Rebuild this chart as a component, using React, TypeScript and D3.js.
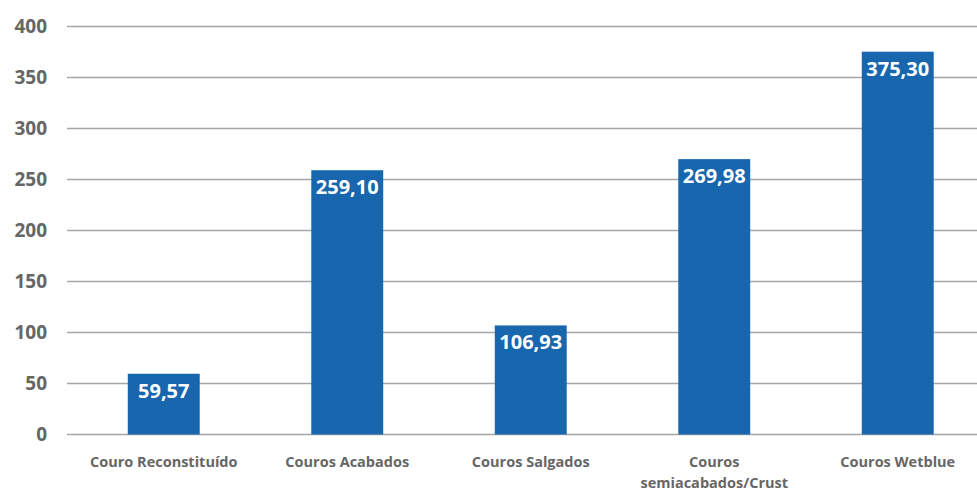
import React from "react";
import * as d3 from "d3";

const categories: string[][] = [
  ["Couro Reconstituído"],
  ["Couros Acabados"],
  ["Couros Salgados"],
  ["Couros", "semiacabados/Crust"],
  ["Couros Wetblue"],
];
const values: number[] = [59.57, 259.1, 106.93, 269.98, 375.3];
const valueLabels: string[] = ["59,57", "259,10", "106,93", "269,98", "375,30"];
const yTicks: number[] = [0, 50, 100, 150, 200, 250, 300, 350, 400];

const W = 977;
const H = 488;
const FONT = "'Open Sans', 'Noto Sans', sans-serif";

export default function App() {
  const x = d3
    .scaleBand<number>()
    .domain(values.map((_, i) => i))
    .range([72, 989.5])
    .paddingInner(0.608)
    .paddingOuter(0.304);
  const y = d3.scaleLinear().domain([0, 400]).range([434.5, 26.5]);

  return (
    <svg
      width={W}
      height={H}
      style={{ position: "absolute", left: 0, top: 0, background: "#fff" }}
      fontFamily={FONT}
    >
      {yTicks.map((t) => (
        <g key={t}>
          <line x1={67} x2={977} y1={y(t)} y2={y(t)} stroke="#a6a6a6" strokeWidth={1.5} />
          <text
            x={47}
            y={y(t)}
            dy="0.36em"
            textAnchor="end"
            fontSize={19}
            fontWeight={700}
            fill="#666666"
          >
            {t}
          </text>
        </g>
      ))}
      {values.map((v, i) => (
        <g key={i}>
          <rect
            x={x(i)!}
            y={y(v)}
            width={x.bandwidth()}
            height={y(0) - y(v)}
            fill="#1766ae"
          />
          <text
            x={x(i)! + x.bandwidth() / 2}
            y={y(v) + 24}
            textAnchor="middle"
            fontSize={20}
            fontWeight={700}
            fill="#ffffff"
          >
            {valueLabels[i]}
          </text>
          {categories[i].map((line, j) => (
            <text
              key={j}
              x={x(i)! + x.bandwidth() / 2}
              y={467 + j * 21}
              textAnchor="middle"
              fontSize={14.5}
              fontWeight={700}
              fill="#666666"
            >
              {line}
            </text>
          ))}
        </g>
      ))}
    </svg>
  );
}
